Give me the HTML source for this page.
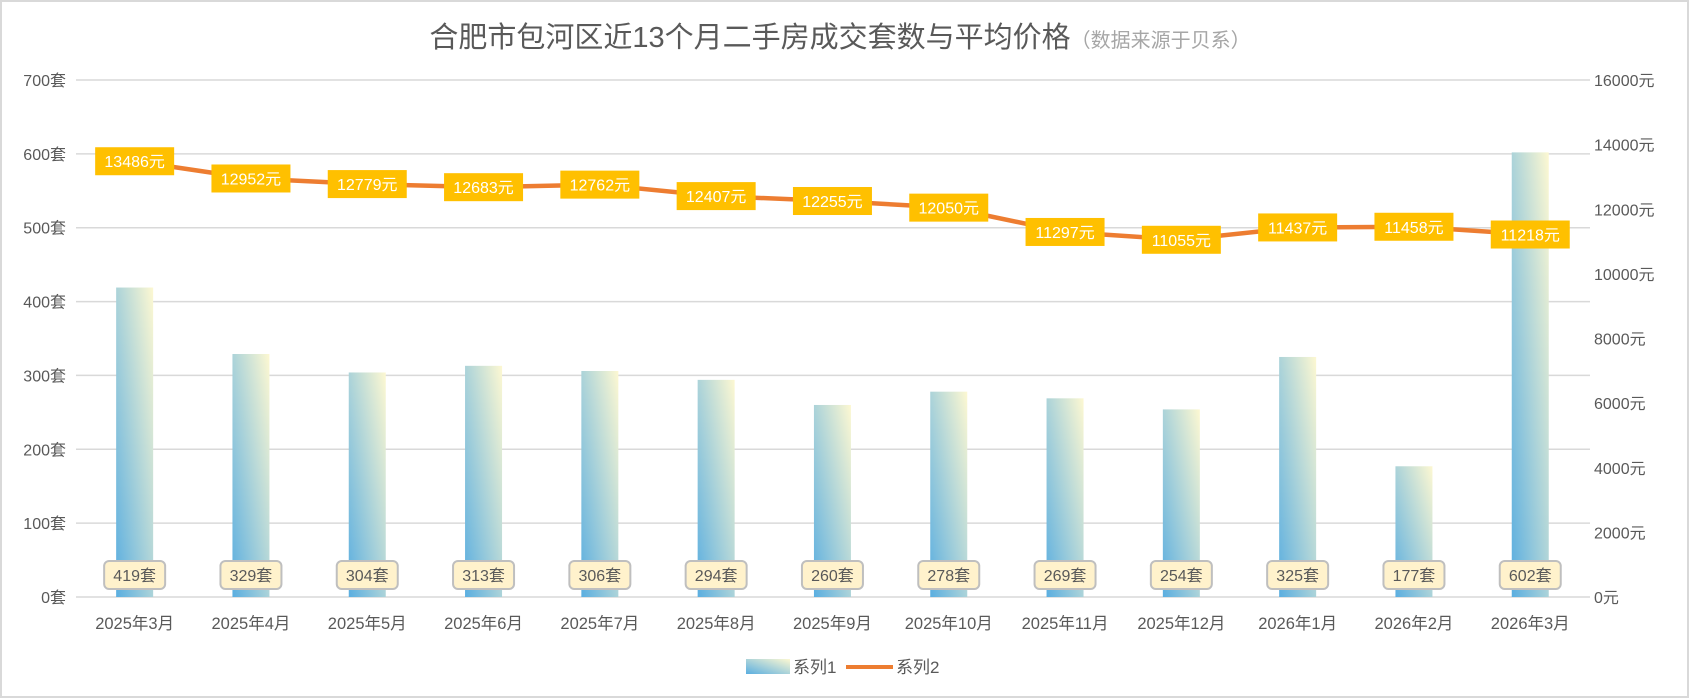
<!DOCTYPE html>
<html><head><meta charset="utf-8"><style>
body{margin:0;background:#fff}
svg{display:block;font-family:"Liberation Sans","Noto Sans CJK SC",sans-serif}
</style></head><body>
<svg id="chart" width="1689" height="698" viewBox="0 0 1689 698">
<defs>
<linearGradient id="bg" x1="0" y1="1" x2="1" y2="0">
<stop offset="0" stop-color="#5aaee0"/><stop offset="1" stop-color="#fdf8d2"/>
</linearGradient>
</defs>
<rect x="1" y="1" width="1687" height="696" fill="#fff" stroke="#d9d9d9" stroke-width="2"/>
<text x="840" y="47" text-anchor="middle" font-size="29" fill="#595959">合肥市包河区近13个月二手房成交套数与平均价格<tspan font-size="20" fill="#a6a6a6">（数据来源于贝系）</tspan></text>
<g id="grid"></g><g id="bars"></g><g id="line"></g><g id="labels"></g>
<g>
<rect x="746" y="659" width="44" height="15" fill="url(#bg)"/>
<text x="793" y="673" font-size="17" fill="#595959">系列1</text>
<line x1="846" y1="667" x2="893" y2="667" stroke="#ED7D31" stroke-width="4"/>
<text x="896" y="673" font-size="17" fill="#595959">系列2</text>
</g>
</svg>
<script>
const categories=["2025年3月","2025年4月","2025年5月","2025年6月","2025年7月","2025年8月","2025年9月","2025年10月","2025年11月","2025年12月","2026年1月","2026年2月","2026年3月"];
const counts=[419,329,304,313,306,294,260,278,269,254,325,177,602];
const prices=[13486,12952,12779,12683,12762,12407,12255,12050,11297,11055,11437,11458,11218];
const leftTicks=[0,100,200,300,400,500,600,700];
const rightTicks=[0,2000,4000,6000,8000,10000,12000,14000,16000];
const NS="http://www.w3.org/2000/svg";
const X0=76.5,STEP=116.3,Y0=597,Y1=80;
const xc=i=>X0+STEP*(i+0.5);
const yL=v=>Y0-(v/700)*(Y0-Y1);
const yR=v=>Y0-(v/16000)*(Y0-Y1);
function mk(tag,attrs,parent,txt){const e=document.createElementNS(NS,tag);for(const k in attrs)e.setAttribute(k,attrs[k]);if(txt!==undefined)e.textContent=txt;parent.appendChild(e);return e;}
const grid=document.getElementById('grid'),bars=document.getElementById('bars'),line=document.getElementById('line'),labels=document.getElementById('labels');
leftTicks.forEach(t=>{
 const l=mk('line',{x1:76,x2:1590,y1:yL(t),y2:yL(t),stroke:'#d9d9d9','stroke-width':1.5},grid);
 
 
 const tx=mk('text',{x:66,y:yL(t)+6,'text-anchor':'end','font-size':16,fill:'#595959'},grid,t+'套');
 
 
});
rightTicks.forEach(t=>{
 const tx=mk('text',{x:1594,y:yR(t)+6,'font-size':16,fill:'#595959'},grid,t+'元');
 
 
});
categories.forEach((c,i)=>{
 const tx=mk('text',{x:xc(i),y:629,'text-anchor':'middle','font-size':16.5,fill:'#595959'},grid,c);
 
 
});
counts.forEach((v,i)=>{
 const b=mk('rect',{x:xc(i)-18.5,y:yL(v),width:37,height:Y0-yL(v),fill:'url(#bg)'},bars);
 
 
 const w=String(v).length*9+22;
 const r=mk('rect',{x:xc(i)-w/2-6,y:561,width:w+12,height:28,rx:5,fill:'#FFF2CC',stroke:'#bfbfbf','stroke-width':2},labels);
 
 
 const t=mk('text',{x:xc(i),y:581,'text-anchor':'middle','font-size':16,fill:'#595959'},labels,v+'套');
 
 
});
const pts=prices.map((v,i)=>xc(i)+','+yR(v)).join(' ');
const pl=mk('polyline',{points:pts,fill:'none',stroke:'#ED7D31','stroke-width':4.5,'stroke-linejoin':'round'},line);


prices.forEach((v,i)=>{
 const r=mk('rect',{x:xc(i)-39.5,y:yR(v)-14,width:79,height:28,fill:'#FFC000'},labels);
 
 
 const t=mk('text',{x:xc(i),y:yR(v)+6,'text-anchor':'middle','font-size':16,fill:'#fff'},labels,v+'元');
 
 
});
</script>
</body></html>
